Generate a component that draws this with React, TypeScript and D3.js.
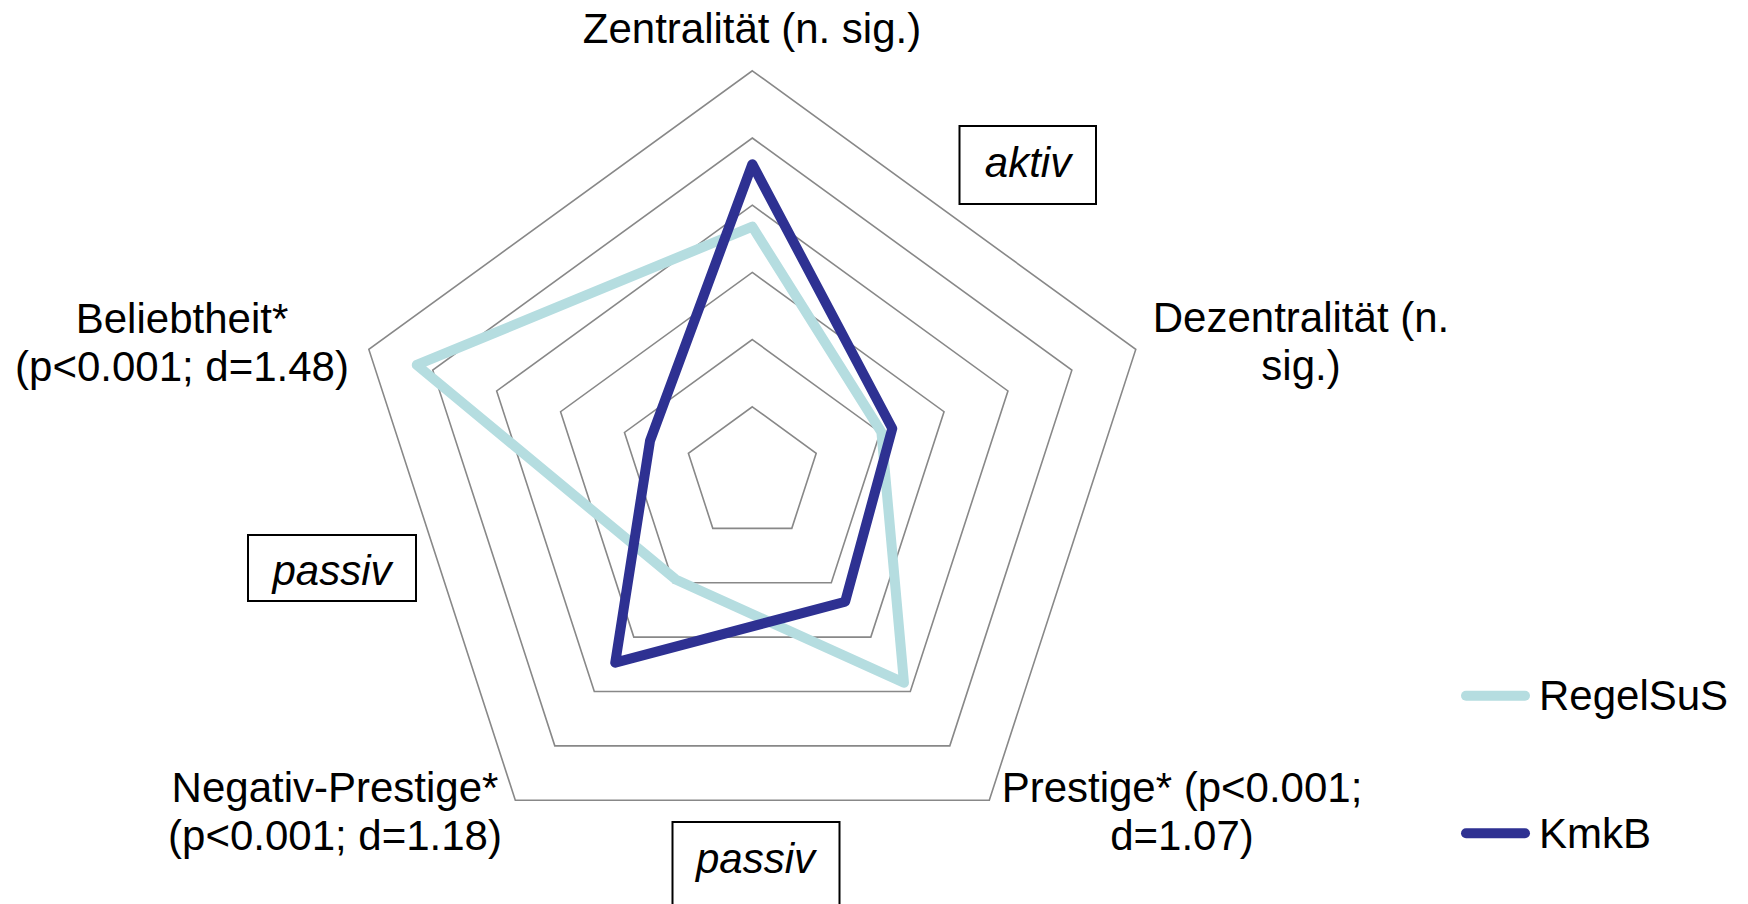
import React from "react";
import * as d3 from "d3";

const categories = [
  "Zentralität (n. sig.)",
  "Dezentralität (n. sig.)",
  "Prestige* (p<0.001; d=1.07)",
  "Negativ-Prestige* (p<0.001; d=1.18)",
  "Beliebtheit* (p<0.001; d=1.48)",
];
const regelSuS = [3.68, 2.02, 3.84, 1.94, 5.25];
const kmkB = [4.61, 2.19, 2.35, 3.47, 1.6];
const gridLevels = [1, 2, 3, 4, 5, 6];
const seriesNames = ["RegelSuS", "KmkB"];
const seriesColors = ["#b5dde0", "#2e3192"];

const W = 1748;
const H = 904;
const cx = 752.3;
const cy = 474;
const FONT = "'Liberation Sans', Arial, Helvetica, sans-serif";

export default function App() {
  const r = d3.scaleLinear().domain([0, 6]).range([0, 403.2]);
  const angle = d3
    .scalePoint<number>()
    .domain(d3.range(categories.length))
    .range([0, (2 * Math.PI * (categories.length - 1)) / categories.length]);

  const radial = d3
    .lineRadial<number>()
    .angle((_, i) => angle(i) as number)
    .radius((v) => r(v))
    .curve(d3.curveLinearClosed);

  const series = [regelSuS, kmkB];

  const labelLines: { lines: string[]; x: number; y: number }[] = [
    { lines: ["Zentralität (n. sig.)"], x: 752, y: 43 },
    { lines: ["Dezentralität (n.", "sig.)"], x: 1301, y: 331.5 },
    { lines: ["Prestige* (p<0.001;", "d=1.07)"], x: 1182, y: 802 },
    { lines: ["Negativ-Prestige*", "(p<0.001; d=1.18)"], x: 335, y: 802 },
    { lines: ["Beliebtheit*", "(p<0.001; d=1.48)"], x: 182, y: 332.5 },
  ];

  const boxes = [
    { text: "aktiv", x: 959.5, y: 126, w: 136.5, h: 78, tx: 1028, ty: 177 },
    { text: "passiv", x: 248, y: 535, w: 168, h: 66, tx: 332, ty: 585 },
    { text: "passiv", x: 672.5, y: 822, w: 167, h: 95, tx: 755.5, ty: 873 },
  ];

  return (
    <svg
      width={W}
      height={H}
      style={{ position: "absolute", left: 0, top: 0, background: "#fff" }}
      fontFamily={FONT}
    >
      <rect x={0} y={0} width={W} height={H} fill="#fff" />
      <g transform={`translate(${cx},${cy})`}>
        {gridLevels.map((lv) => (
          <path
            key={lv}
            d={radial(categories.map(() => lv)) || ""}
            fill="none"
            stroke="#888"
            strokeWidth={1.6}
          />
        ))}
        {series.map((s, i) => (
          <path
            key={i}
            d={radial(s) || ""}
            fill="none"
            stroke={seriesColors[i]}
            strokeWidth={10}
            strokeLinejoin="round"
            strokeLinecap="round"
          />
        ))}
      </g>
      {labelLines.map((l, i) => (
        <text key={i} x={l.x} y={l.y} fontSize={42} textAnchor="middle" fill="#000">
          {l.lines.map((t, j) => (
            <tspan key={j} x={l.x} dy={j === 0 ? 0 : 48}>
              {t}
            </tspan>
          ))}
        </text>
      ))}
      {boxes.map((b, i) => (
        <g key={i}>
          <rect x={b.x} y={b.y} width={b.w} height={b.h} fill="#fff" stroke="#000" strokeWidth={2} />
          <text x={b.tx} y={b.ty} fontSize={42} fontStyle="italic" textAnchor="middle" fill="#000">
            {b.text}
          </text>
        </g>
      ))}
      {seriesNames.map((name, i) => {
        const y = i === 0 ? 695.7 : 833.3;
        return (
          <g key={name}>
            <line
              x1={1466}
              x2={1525}
              y1={y}
              y2={y}
              stroke={seriesColors[i]}
              strokeWidth={10}
              strokeLinecap="round"
            />
            <text x={1539} y={y + 14.5} fontSize={42} fill="#000">
              {name}
            </text>
          </g>
        );
      })}
    </svg>
  );
}
